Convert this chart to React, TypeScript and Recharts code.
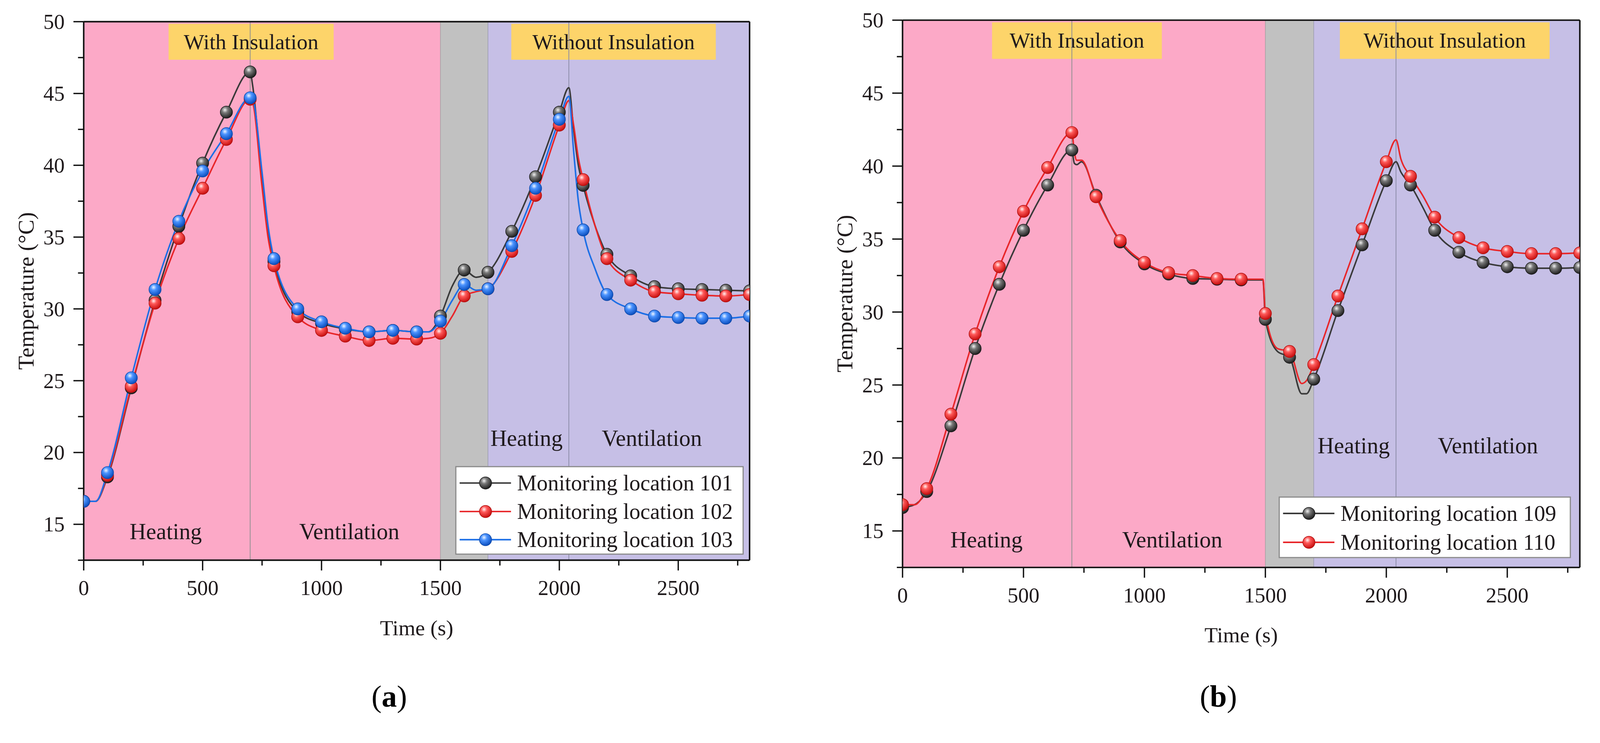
import React from 'react';
import { LineChart, Line, XAxis, YAxis, ReferenceArea, ReferenceLine, ReferenceDot } from 'recharts';

const FONT = "'Liberation Serif', 'Times New Roman', serif";
const INK = '#1f1a1c';
const PAGE_W = 4205;
const PAGE_H = 1903;

// x and y ticks (majors carry labels, minors are short)
const xTicks = [0, 250, 500, 750, 1000, 1250, 1500, 1750, 2000, 2250, 2500, 2750];
const yTicks = [12.5, 15, 17.5, 20, 22.5, 25, 27.5, 30, 32.5, 35, 37.5, 40, 42.5, 45, 47.5, 50];

// panel (a): monitoring locations 101, 102, 103
const timeA = [0, 50, 100, 200, 300, 400, 500, 600, 700, 710, 750, 775, 800, 900, 1000, 1100, 1200, 1300, 1400, 1450, 1500, 1550, 1600, 1650, 1700, 1800, 1900, 2000, 2040, 2060, 2080, 2100, 2150, 2200, 2300, 2400, 2500, 2600, 2700, 2800];
const loc101 = [16.6, 16.6, 18.3, 24.5, 30.6, 35.75, 40.15, 43.7, 46.5, 45.6, 39.0, 35.6, 33.3, 29.8, 29.0, 28.6, 28.4, 28.5, 28.4, 28.4, 29.5, 31.6, 32.7, 32.2, 32.55, 35.4, 39.2, 43.7, 45.4, 42.5, 40.0, 38.6, 35.8, 33.8, 32.3, 31.55, 31.4, 31.35, 31.3, 31.25];
const loc102 = [16.6, 16.6, 18.4, 24.6, 30.4, 34.9, 38.4, 41.8, 44.6, 44.4, 38.5, 35.0, 33.0, 29.45, 28.5, 28.1, 27.8, 27.95, 27.9, 27.95, 28.3, 29.5, 30.9, 31.2, 31.4, 34.0, 37.9, 42.8, 44.5, 42.8, 40.5, 39.0, 35.8, 33.5, 32.0, 31.2, 31.05, 30.95, 30.9, 31.0];
const loc103 = [16.6, 16.6, 18.6, 25.2, 31.35, 36.1, 39.6, 42.2, 44.7, 44.6, 39.5, 35.8, 33.5, 30.0, 29.1, 28.65, 28.4, 28.5, 28.4, 28.4, 29.15, 30.6, 31.7, 31.3, 31.4, 34.4, 38.4, 43.2, 44.8, 41.0, 37.5, 35.5, 32.8, 31.0, 30.0, 29.5, 29.4, 29.35, 29.35, 29.5];

// panel (b): monitoring locations 109, 110
const timeB = [0, 50, 100, 200, 300, 400, 500, 600, 700, 710, 720, 740, 800, 900, 1000, 1100, 1200, 1300, 1400, 1490, 1500, 1550, 1600, 1650, 1670, 1700, 1800, 1900, 2000, 2040, 2060, 2100, 2150, 2200, 2300, 2400, 2500, 2600, 2700, 2800];
const loc109 = [16.6, 16.8, 17.7, 22.2, 27.5, 31.9, 35.6, 38.7, 41.1, 40.2, 40.1, 40.3, 38.0, 34.8, 33.3, 32.6, 32.3, 32.25, 32.2, 32.2, 29.5, 27.3, 26.9, 24.4, 24.4, 25.4, 30.1, 34.6, 39.0, 40.3, 39.6, 38.7, 37.2, 35.6, 34.1, 33.4, 33.1, 33.0, 33.0, 33.05];
const loc110 = [16.8, 16.8, 17.9, 23.0, 28.5, 33.1, 36.9, 39.9, 42.3, 41.0, 40.4, 40.4, 37.9, 34.9, 33.4, 32.7, 32.5, 32.3, 32.25, 32.25, 29.9, 27.5, 27.3, 25.1, 25.3, 26.4, 31.1, 35.7, 40.3, 41.8, 40.5, 39.3, 38.0, 36.5, 35.1, 34.4, 34.15, 34.0, 34.0, 34.05];

const dataA = timeA.map((t, i) => ({ t, a: loc101[i], b: loc102[i], c: loc103[i] }));
const dataB = timeB.map((t, i) => ({ t, a: loc109[i], b: loc110[i] }));

const series = {
  black: { line: '#3a3a3a', edge: '#1a1a1a', grad: 'ballBlack' },
  red: { line: '#e8262a', edge: '#b01010', grad: 'ballRed' },
  blue: { line: '#1d6fe6', edge: '#0e48a8', grad: 'ballBlue' },
};

const XTick = ({ x, y, payload }: any) => {
  const major = payload.value % 500 === 0;
  return (
    <g>
      <line x1={x} x2={x} y1={y} y2={y + (major ? 27 : 14)} stroke="#111" strokeWidth={3.5} />
      {major && (
        <text x={x} y={y + 92} textAnchor="middle" fontSize={56} fontFamily={FONT} fill={INK}>
          {payload.value}
        </text>
      )}
    </g>
  );
};

const YTick = ({ x, y, payload }: any) => {
  const major = payload.value % 5 === 0;
  return (
    <g>
      <line x1={x} x2={x - (major ? 27 : 15)} y1={y} y2={y} stroke="#111" strokeWidth={3.5} />
      {major && (
        <text x={x - 50} y={y} textAnchor="end" dominantBaseline="central" fontSize={56} fontFamily={FONT} fill={INK}>
          {payload.value}
        </text>
      )}
    </g>
  );
};

const textLabel = (value: string, size: number) => (props: any) => {
  const vb = props.viewBox;
  return (
    <text
      x={vb.x + vb.width / 2}
      y={vb.y + vb.height / 2}
      textAnchor="middle"
      dominantBaseline="central"
      fontSize={size}
      fontFamily={FONT}
      fill={INK}
    >
      {value}
    </text>
  );
};

const ballDot = (grad: string, edge: string) => (p: any) => {
  const { cx, cy, payload, index } = p;
  if (cx == null || payload.t % 100 !== 0) return <g key={`d${index}`} />;
  return <circle key={`d${index}`} cx={cx} cy={cy} r={16} fill={`url(#${grad})`} stroke={edge} strokeWidth={1.5} />;
};

interface PanelProps {
  data: any[];
  keys: (keyof typeof series)[];
  width: number;
  height: number;
  margin: { top: number; right: number; bottom: number; left: number };
  yWidth: number;
  xHeight: number;
  withBox: [number, number];
  withoutBox: [number, number];
  lowY: number;
  highY: number;
  labelsX: [number, number, number, number];
}

const Panel = ({ data, keys, width, height, margin, yWidth, xHeight, withBox, withoutBox, lowY, highY, labelsX }: PanelProps) => (
  <LineChart width={width} height={height} data={data} margin={margin}>
    <XAxis
      dataKey="t"
      type="number"
      domain={[0, 2800]}
      ticks={xTicks}
      interval={0}
      tickSize={0}
      tickMargin={0}
      height={xHeight}
      tickLine={false}
      axisLine={{ stroke: '#111', strokeWidth: 4 }}
      tick={(p: any) => <XTick {...p} />}
      allowDataOverflow
    />
    <YAxis
      type="number"
      domain={[12.5, 50]}
      ticks={yTicks}
      interval={0}
      tickSize={0}
      tickMargin={0}
      width={yWidth}
      tickLine={false}
      axisLine={{ stroke: '#111', strokeWidth: 4 }}
      tick={(p: any) => <YTick {...p} />}
      allowDataOverflow
    />
    <ReferenceArea x1={0} x2={1500} y1={12.5} y2={50} fill="#fca9c7" fillOpacity={1} stroke="none" />
    <ReferenceArea x1={1500} x2={1700} y1={12.5} y2={50} fill="#c1c1c1" fillOpacity={1} stroke="none" />
    <ReferenceArea x1={1700} x2={2800} y1={12.5} y2={50} fill="#c6bfe6" fillOpacity={1} stroke="none" />
    <ReferenceLine x={700} stroke="#909090" strokeWidth={2} />
    <ReferenceLine x={1500} stroke="#a0a0a0" strokeWidth={1.5} />
    <ReferenceLine x={1700} stroke="#9a9ab0" strokeWidth={1.5} />
    <ReferenceLine x={2040} stroke="#8c8ca8" strokeWidth={2} />
    <ReferenceArea x1={withBox[0]} x2={withBox[1]} y1={47.35} y2={49.85} fill="#fdd46a" fillOpacity={1} stroke="none" label={textLabel('With Insulation', 57)} />
    <ReferenceArea x1={withoutBox[0]} x2={withoutBox[1]} y1={47.35} y2={49.85} fill="#fdd46a" fillOpacity={1} stroke="none" label={textLabel('Without Insulation', 57)} />
    <ReferenceDot x={labelsX[0]} y={lowY} r={1} fill="none" stroke="none" label={textLabel('Heating', 60)} />
    <ReferenceDot x={labelsX[1]} y={lowY} r={1} fill="none" stroke="none" label={textLabel('Ventilation', 60)} />
    <ReferenceDot x={labelsX[2]} y={highY} r={1} fill="none" stroke="none" label={textLabel('Heating', 60)} />
    <ReferenceDot x={labelsX[3]} y={highY} r={1} fill="none" stroke="none" label={textLabel('Ventilation', 60)} />
    {keys.map((k, i) => (
      <Line
        key={k}
        dataKey={['a', 'b', 'c'][i]}
        type="monotone"
        stroke={series[k].line}
        strokeWidth={4}
        dot={ballDot(series[k].grad, series[k].edge)}
        activeDot={false}
        isAnimationActive={false}
      />
    ))}
    <ReferenceLine y={50} stroke="#111" strokeWidth={4} />
    <ReferenceLine x={2800} stroke="#111" strokeWidth={4} />
  </LineChart>
);

const Ball = ({ cx, cy, k }: { cx: number; cy: number; k: keyof typeof series }) => (
  <g>
    <line x1={cx - 68} x2={cx + 67} y1={cy} y2={cy} stroke={series[k].line} strokeWidth={4} />
    <circle cx={cx} cy={cy} r={16} fill={`url(#${series[k].grad})`} stroke={series[k].edge} strokeWidth={1.5} />
  </g>
);

const LegendBox = ({ x, y, w, h, rows }: { x: number; y: number; w: number; h: number; rows: { k: keyof typeof series; label: string; cy: number }[] }) => (
  <g>
    <rect x={x} y={y} width={w} height={h} fill="#fff" stroke="#8a8a8a" strokeWidth={3} />
    {rows.map((r) => (
      <g key={r.label}>
        <Ball cx={x + 78} cy={r.cy} k={r.k} />
        <text x={x + 161} y={r.cy} dominantBaseline="central" fontSize={58} fontFamily={FONT} fill={INK}>
          {r.label}
        </text>
      </g>
    ))}
  </g>
);

const Defs = () => (
  <defs>
    <radialGradient id="ballBlack" cx="38%" cy="32%" r="68%">
      <stop offset="0%" stopColor="#f2f2f2" />
      <stop offset="35%" stopColor="#7a7a7a" />
      <stop offset="100%" stopColor="#1e1e1e" />
    </radialGradient>
    <radialGradient id="ballRed" cx="38%" cy="32%" r="68%">
      <stop offset="0%" stopColor="#fff2f2" />
      <stop offset="35%" stopColor="#ff5a5a" />
      <stop offset="100%" stopColor="#c81010" />
    </radialGradient>
    <radialGradient id="ballBlue" cx="38%" cy="32%" r="68%">
      <stop offset="0%" stopColor="#eef5ff" />
      <stop offset="35%" stopColor="#4c94ff" />
      <stop offset="100%" stopColor="#0c4fbf" />
    </radialGradient>
  </defs>
);

export default function App() {
  // fit the 4205x1903 figure to whatever viewport we actually get
  const fit =
    typeof window !== 'undefined' && window.innerWidth > 0
      ? Math.min(window.innerWidth / PAGE_W, window.innerHeight / PAGE_H, 1)
      : 1;
  return (
    <div
      style={{
        position: 'absolute',
        left: 0,
        top: 0,
        width: PAGE_W,
        height: PAGE_H,
        background: '#fff',
        overflow: 'hidden',
        transform: `scale(${fit})`,
        transformOrigin: '0 0',
      }}
    >
      <svg width={0} height={0} style={{ position: 'absolute' }}>
        <Defs />
      </svg>
      <div style={{ position: 'absolute', left: 0, top: 0 }}>
        <Panel
          data={dataA}
          keys={['black', 'red', 'blue']}
          width={2000}
          height={1620}
          margin={{ top: 57, right: 30, bottom: 0, left: 0 }}
          yWidth={220}
          xHeight={147}
          withBox={[357, 1051]}
          withoutBox={[1798, 2658]}
          lowY={14.5}
          highY={21.0}
          labelsX={[345, 1117, 1862, 2389]}
        />
      </div>
      <div style={{ position: 'absolute', left: 2150, top: 0 }}>
        <Panel
          data={dataB}
          keys={['black', 'red']}
          width={2050}
          height={1640}
          margin={{ top: 53, right: 48, bottom: 0, left: 0 }}
          yWidth={222}
          xHeight={148}
          withBox={[370, 1072]}
          withoutBox={[1808, 2675]}
          lowY={14.4}
          highY={20.85}
          labelsX={[347, 1115, 1865, 2420]}
        />
      </div>
      <svg width={PAGE_W} height={PAGE_H} style={{ position: 'absolute', left: 0, top: 0, pointerEvents: 'none' }}>
        <LegendBox
          x={1198}
          y={1227}
          w={755}
          h={230}
          rows={[
            { k: 'black', label: 'Monitoring location 101', cy: 1270 },
            { k: 'red', label: 'Monitoring location 102', cy: 1345 },
            { k: 'blue', label: 'Monitoring location 103', cy: 1419 },
          ]}
        />
        <LegendBox
          x={3362}
          y={1307}
          w={765}
          h={159}
          rows={[
            { k: 'black', label: 'Monitoring location 109', cy: 1350 },
            { k: 'red', label: 'Monitoring location 110', cy: 1426 },
          ]}
        />
        <text transform="translate(88,765) rotate(-90)" textAnchor="middle" fontSize={59} fontFamily={FONT} fill={INK}>
          Temperature (°C)
        </text>
        <text transform="translate(2240,772) rotate(-90)" textAnchor="middle" fontSize={59} fontFamily={FONT} fill={INK}>
          Temperature (°C)
        </text>
        <text x={1095} y={1670} textAnchor="middle" fontSize={57} fontFamily={FONT} fill={INK}>
          Time (s)
        </text>
        <text x={3262} y={1689} textAnchor="middle" fontSize={57} fontFamily={FONT} fill={INK}>
          Time (s)
        </text>
        <text x={1023} y={1858} textAnchor="middle" fontSize={80} fontFamily={FONT} fill="#000">
          (<tspan fontWeight="bold">a</tspan>)
        </text>
        <text x={3202} y={1858} textAnchor="middle" fontSize={80} fontFamily={FONT} fill="#000">
          (<tspan fontWeight="bold">b</tspan>)
        </text>
      </svg>
    </div>
  );
}
